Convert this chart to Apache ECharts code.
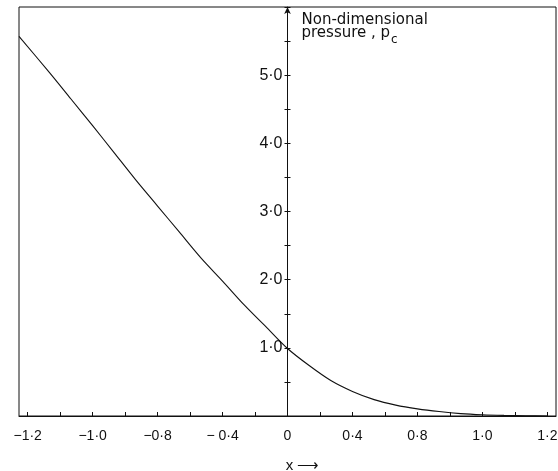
<!DOCTYPE html>
<html>
<head>
<meta charset="utf-8">
<script src="https://cdn.jsdelivr.net/npm/echarts@6/dist/echarts.min.js"></script>
<style>
  html, body { margin: 0; padding: 0; background: #fff; }
  #chart { width: 558px; height: 471px; }
</style>
</head>
<body>
<div id="chart"></div>
<script>
// curve (x in axis position units, one label step = 0.3)
const xValues = [-1.24, -1.1, -1.0, -0.9, -0.8, -0.7, -0.6, -0.5, -0.4, -0.3, -0.2, -0.1, 0,
  0.1, 0.2, 0.3, 0.4, 0.5, 0.6, 0.7, 0.8, 0.9, 1.0, 1.1, 1.2]
const pressure = [5.57, 5.04, 4.65, 4.26, 3.86, 3.46, 3.08, 2.70, 2.32, 1.98, 1.63, 1.31, 0.99,
  0.74, 0.52, 0.36, 0.24, 0.16, 0.105, 0.065, 0.035, 0.018, 0.009, 0.004, 0.001]

// tick labels as printed in the figure
const xLabelPos = [-1.2, -0.9, -0.6, -0.3, 0, 0.3, 0.6, 0.9, 1.2]
const xLabels = ['−1·2', '−1·0', '−0·8', '− 0·4', '0', '0·4', '0·8', '1·0', '1·2']
const xTickPos = [-1.2, -1.05, -0.9, -0.75, -0.6, -0.45, -0.3, -0.15, 0,
  0.15, 0.3, 0.45, 0.6, 0.75, 0.9, 1.05, 1.2]
const yLabelPos = [1, 2, 3, 4, 5]

const chart = echarts.init(document.getElementById('chart'))
const font = '"Liberation Sans", Arial, sans-serif'
const nameFont = '"DejaVu Sans", sans-serif'

// grid spans 537px for 2.48 units; y axis sits at x = 0
const gridLeft = 19
const gridWidth = 558 - 19 - 2
const yAxisOffset = -gridWidth * (1.24 / 2.48)

const option = {
  animation: false,
  grid: {
    left: gridLeft,
    right: 2,
    top: 7,
    bottom: 55,
    outerBoundsMode: 'none',
    show: true,
    borderColor: '#111',
    borderWidth: 1
  },
  xAxis: {
    type: 'value',
    min: -1.24,
    max: 1.24,
    name: 'x ⟶',
    nameLocation: 'middle',
    nameGap: 42,
    nameTextStyle: { color: '#111', fontFamily: font, fontSize: 15, padding: [0, 0, 0, 30] },
    axisLine: { onZero: false, lineStyle: { color: '#111', width: 1 } },
    axisTick: { inside: true, length: 4, customValues: xTickPos, lineStyle: { color: '#111' } },
    axisLabel: {
      customValues: xLabelPos,
      color: '#111',
      fontFamily: font,
      fontSize: 14,
      margin: 13,
      formatter: v => xLabels[Math.round(v / 0.3) + 4]
    },
    splitLine: { show: false }
  },
  yAxis: [
    {
      type: 'value',
      min: 0,
      max: 6,
      interval: 0.5,
      position: 'left',
      offset: yAxisOffset,
      name: '{a|Non-dimensional}\n{a|pressure , p}{sub|c}',
      nameLocation: 'end',
      nameGap: -6,
      nameTextStyle: {
        color: '#111',
        fontFamily: nameFont,
        fontSize: 15,
        lineHeight: 13,
        align: 'left',
        verticalAlign: 'top',
        padding: [0, 0, 0, 14],
        rich: {
          a: { fontFamily: nameFont, fontSize: 15, lineHeight: 13, verticalAlign: 'top', color: '#111' },
          sub: {
            fontFamily: nameFont, fontSize: 12, lineHeight: 20,
            verticalAlign: 'bottom', padding: [0, 0, 0, 1], color: '#111'
          }
        }
      },
      axisLine: {
        onZero: false,
        symbol: ['none', 'arrow'],
        symbolSize: [5, 7],
        lineStyle: { color: '#111', width: 1 }
      },
      axisTick: { length: 3, lineStyle: { color: '#111' } },
      axisLabel: {
        customValues: yLabelPos,
        color: '#111',
        fontFamily: font,
        fontSize: 16,
        margin: 5,
        formatter: v => v.toFixed(1).replace('.', '·')
      },
      splitLine: { show: false }
    },
    {
      type: 'value',
      min: 0,
      max: 6,
      interval: 0.5,
      position: 'left',
      offset: yAxisOffset,
      axisLine: { show: false, onZero: false },
      axisTick: { show: true, inside: true, length: 3, lineStyle: { color: '#111' } },
      axisLabel: { show: false },
      splitLine: { show: false }
    }
  ],
  series: [
    {
      type: 'line',
      data: xValues.map((x, i) => [x, pressure[i]]),
      smooth: 0.3,
      showSymbol: false,
      lineStyle: { color: '#111', width: 1.1 }
    }
  ]
}

chart.setOption(option)
</script>
</body>
</html>
